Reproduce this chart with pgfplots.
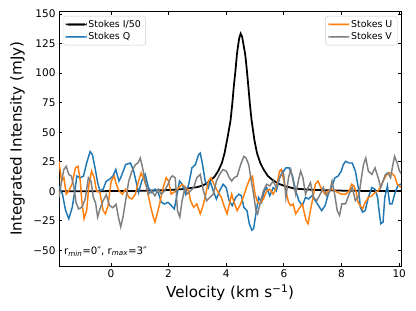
\documentclass[border=0pt]{standalone}
\usepackage{fontspec}
\setmainfont{DejaVu Sans}
\usepackage{pgfplots}
\pgfplotsset{compat=1.18}
\definecolor{tabblue}{RGB}{31,119,180}
\definecolor{taborange}{RGB}{255,127,14}
\definecolor{tabgray}{RGB}{127,127,127}
\pgfplotsset{
  base/.style={
    scale only axis, width=350bp, height=261bp,
    xmin=-1.8, xmax=10.07, ymin=-63.6, ymax=152.5,
    tick align=inside, tick pos=both,
    major tick length=3.5bp, minor tick num=0,
    major tick style={black, line width=0.8bp},
    axis line style={line width=0.8bp},
    xtick={0,2,4,6,8,10},
    xticklabels={0,2,4,6,8,10},
    ytick={-50,-25,0,25,50,75,100,125,150},
    yticklabels={−50,−25,0,25,50,75,100,125,150},
    tick label style={font=\fontsize{10.8}{13}\selectfont},
    legend cell align=left,
    legend style={draw=black!20, rounded corners=2pt, fill=white,
      font=\fontsize{9.7}{11.5}\selectfont},
  },
}
\begin{document}
\begin{tikzpicture}
\begin{axis}[base,
  xlabel={Velocity (km s\textsuperscript{−1})},
  ylabel={Integrated Intensity (mJy)},
  label style={font=\fontsize{15.5}{18}\selectfont},
  ylabel style={yshift=2bp},
  legend style={at={(0.011,0.981)}, anchor=north west},
]
\addplot[black, line width=1.8bp, legend image code/.code={\fill[black, line width=0.1bp] (0bp,-0.9bp) rectangle (21bp,0.9bp);}] coordinates {
(-1.8,0)(-1.0,0)(0,0.1)(1,0.3)(2,1.0)(2.5,1.8)(3.0,3.5)(3.2,5)(3.4,8)(3.6,12.5)(3.72,17)(3.85,24)(3.94,32)(4.05,46)(4.15,60)(4.21,74)(4.26,88)(4.32,102)(4.37,115.6)(4.41,123)(4.45,129.5)(4.50,133.5)(4.55,131)(4.60,124)(4.66,115.6)(4.71,104)(4.77,88)(4.82,74)(4.88,60)(4.98,43)(5.07,32)(5.18,24)(5.30,18.3)(5.44,13)(5.58,10)(5.8,6.5)(6.03,4.4)(6.37,2.2)(7.0,1.2)(8.0,0.5)(9.0,0.2)(10.1,0.1)
};
\addlegendentry{Stokes I/50}
\addplot[tabblue, line width=1.5bp, legend image code/.code={\fill[tabblue, line width=0.1bp] (0bp,-0.75bp) rectangle (21bp,0.75bp);}] coordinates {
(-1.80,4.5)(-1.68,-2.5)(-1.57,-16.4)(-1.46,-23.3)(-1.34,-13.6)(-1.25,0.3)(-1.18,12.8)(-1.06,11.4)(-0.95,12.8)(-0.84,23.9)(-0.72,33.6)(-0.64,30.9)(-0.55,19.8)(-0.46,7.3)(-0.38,0.3)(-0.27,1.7)(-0.16,8.6)(-0.05,10.0)(0.07,12.8)(0.17,18.4)(0.28,8.6)(0.34,11.4)(0.45,18.4)(0.51,22.5)(0.68,23.9)(0.79,17.0)(0.96,-1.1)(1.07,8.6)(1.19,14.2)(1.30,3.1)(1.41,-1.1)(1.53,1.7)(1.64,-1.1)(1.75,-9.4)(1.86,-10.8)(1.98,-9.4)(2.09,-12)(2.2,-15)(2.3,-2)(2.38,8.6)(2.47,5.9)(2.59,-2.5)(2.70,5.9)(2.81,19.8)(2.93,22.5)(3.04,30.9)(3.10,32.3)(3.18,22.5)(3.27,8.6)(3.38,3.1)(3.44,8.6)(3.55,0.3)(3.66,-6.6)(3.77,0.3)(3.89,5.9)(4.00,3.1)(4.10,-8.0)(4.21,-12.2)(4.33,-5.2)(4.44,-2.5)(4.53,-3.9)(4.61,-13.6)(4.72,-16.4)(4.80,-27.5)(4.89,-33.0)(4.95,-31.6)(5.03,-19.1)(5.12,-5.2)(5.23,-9.4)(5.32,0.3)(5.40,3.1)(5.51,-3.9)(5.63,3.1)(5.74,0.3)(5.85,11.4)(5.96,15.6)(6.07,19.8)(6.18,19.8)(6.30,12.8)(6.41,0.3)(6.52,-8.0)(6.64,-12.2)(6.75,-5.2)(6.86,-6.6)(6.97,-3.9)(7.09,-8.0)(7.20,-12.2)(7.31,-16.4)(7.43,-12.2)(7.54,-2.5)(7.65,3.1)(7.77,11.4)(7.88,12.8)(7.99,17.0)(8.06,22.5)(8.14,25.3)(8.26,23.9)(8.37,23.9)(8.48,17.0)(8.60,0.3)(8.65,-13.6)(8.73,-17.7)(8.82,-16.4)(8.93,-5.2)(9.05,3.1)(9.16,1.7)(9.25,-5.2)(9.30,-16.4)(9.36,-27.5)(9.44,-26.1)(9.50,-5.2)(9.59,4.5)(9.67,-10.8)(9.75,-10.8)(9.84,-2.5)(9.95,4.5)(10.04,5.9)(10.1,6)
};
\addlegendentry{Stokes Q}
\addplot[taborange, line width=1.5bp, forget plot] coordinates {
(-1.80,25.3)(-1.71,8.6)(-1.63,11.4)(-1.55,-2.5)(-1.46,0.3)(-1.35,5.9)(-1.23,19.8)(-1.14,21.1)(-1.06,8.6)(-1.01,-8.0)(-0.93,-23.3)(-0.84,-16.4)(-0.76,5.9)(-0.67,17.0)(-0.58,11.4)(-0.50,0.3)(-0.38,-1.1)(-0.27,-16.4)(-0.19,-19.1)(-0.10,-12.2)(0.01,8.6)(0.12,12.8)(0.17,7.3)(0.28,0.3)(0.40,-2.5)(0.51,1.7)(0.62,-5.2)(0.73,-6.6)(0.85,-2.5)(0.96,8.6)(1.05,15.6)(1.13,11.4)(1.24,3.1)(1.36,-10.8)(1.47,-21.9)(1.53,-26.1)(1.62,-17.7)(1.69,-10.8)(1.81,3.1)(1.92,11.4)(2.00,8.6)(2.09,-2.5)(2.25,0.3)(2.36,3.1)(2.47,5.9)(2.59,3.1)(2.70,0.3)(2.76,-8.0)(2.87,-13.6)(2.98,-10.8)(3.10,-19.1)(3.18,-13.6)(3.27,-5.2)(3.38,8.6)(3.47,11.4)(3.55,7.3)(3.66,1.7)(3.83,-5.2)(3.94,-13.6)(4.03,-19.1)(4.11,-10.8)(4.19,-2.5)(4.27,-9.4)(4.38,-16.4)(4.50,-10.8)(4.61,-3.9)(4.72,4.5)(4.83,11.4)(4.91,12.8)(5.00,-2.5)(5.09,-9.4)(5.17,-10.8)(5.29,-6.6)(5.40,0.3)(5.51,1.7)(5.63,-2.5)(5.74,3.1)(5.85,17.0)(5.91,18.4)(6.00,8.6)(6.07,0.3)(6.16,-9.4)(6.24,-12.2)(6.32,-10.8)(6.41,-19.1)(6.52,-15.0)(6.64,-10.8)(6.69,-16.4)(6.77,-24.7)(6.84,-27.5)(6.92,-16.4)(7.00,-6.6)(7.09,5.9)(7.18,8.6)(7.26,4.5)(7.34,0.3)(7.43,-2.5)(7.54,0.3)(7.65,1.7)(7.77,0.3)(7.88,-1.1)(7.99,-2.5)(8.14,-2.5)(8.26,0.3)(8.35,5.9)(8.43,4.5)(8.51,-1.1)(8.57,-9.4)(8.65,-12.2)(8.73,-15.0)(8.82,-9.4)(8.93,-5.2)(9.05,-3.9)(9.16,-1.1)(9.27,0.3)(9.39,5.9)(9.50,11.4)(9.61,15.6)(9.73,15.6)(9.84,12.8)(9.93,5.9)(10.01,4.5)(10.1,3)
};
\addplot[tabgray, line width=1.5bp, forget plot] coordinates {
(-1.80,-5.2)(-1.71,8.6)(-1.63,18.4)(-1.55,21.1)(-1.46,14.2)(-1.37,12.8)(-1.29,4.5)(-1.21,-9.4)(-1.12,-15.0)(-1.01,-13.6)(-0.89,-6.6)(-0.78,11.4)(-0.69,8.6)(-0.61,-5.2)(-0.53,-10)(-0.46,-22)(-0.38,-15)(-0.27,-8)(-0.16,-3)(-0.05,-12)(0.07,-14)(0.18,-11)(0.26,-21.9)(0.34,-30.2)(0.42,-21.9)(0.51,-8.0)(0.62,8.6)(0.73,17.0)(0.85,22.5)(0.94,23.9)(1.02,28.1)(1.10,19.8)(1.19,8.6)(1.30,-2.5)(1.41,0.3)(1.53,-3.9)(1.64,1.7)(1.75,-2.5)(1.86,0.3)(1.98,5.9)(2.07,11.4)(2.14,13)(2.23,11.4)(2.31,-16.4)(2.39,-21.9)(2.47,-8.0)(2.57,3.1)(2.64,-2.5)(2.76,0.3)(2.87,3.1)(2.98,11.4)(3.10,14.2)(3.21,0.3)(3.32,-8.0)(3.44,-5.2)(3.55,-2.5)(3.66,8.6)(3.77,14.2)(3.89,18.4)(4.00,17.0)(4.11,11.4)(4.19,8.6)(4.27,11.4)(4.38,12.8)(4.50,22.5)(4.61,29.5)(4.69,28.1)(4.78,22.5)(4.87,8.6)(4.95,-2.5)(5.03,-16.4)(5.09,-19.1)(5.17,-10.8)(5.29,0.3)(5.40,5.9)(5.51,4.5)(5.63,8.6)(5.74,3.1)(5.85,11.4)(5.96,17.0)(6.00,12.8)(6.07,-5.2)(6.16,11.4)(6.24,18.4)(6.32,8.6)(6.41,-2.5)(6.50,8.6)(6.58,17.0)(6.66,11.4)(6.75,-2.5)(6.84,3.1)(6.92,7.3)(7.03,-5.2)(7.14,-8.0)(7.26,-2.5)(7.37,3.1)(7.48,-3.9)(7.60,0.3)(7.67,8.6)(7.76,-2.5)(7.85,-16.4)(7.93,-20.5)(8.01,-10.8)(8.14,-10.8)(8.26,-2.5)(8.37,3.1)(8.48,-8.0)(8.60,-3.9)(8.69,11.4)(8.76,22.5)(8.84,28.1)(8.93,17.0)(9.05,14.2)(9.16,19.8)(9.27,11.4)(9.36,3.1)(9.44,8.6)(9.52,14.2)(9.61,15.6)(9.70,11.4)(9.78,22.5)(9.84,29.5)(9.93,23.9)(10.01,17.0)(10.1,14)
};
\node[anchor=west, font=\fontsize{10.5}{12}\selectfont, inner sep=0pt] at (axis cs:-1.63,-51) {r\textsubscript{\textit{min}}=0″, r\textsubscript{\textit{max}}=3″};
\end{axis}
\begin{axis}[base, hide axis,
  legend style={at={(0.989,0.981)}, anchor=north east},
]
\addlegendimage{legend image code/.code={\fill[taborange, line width=0.1bp] (0bp,-0.75bp) rectangle (21bp,0.75bp);}}
\addlegendentry{Stokes U}
\addlegendimage{legend image code/.code={\fill[tabgray, line width=0.1bp] (0bp,-0.75bp) rectangle (21bp,0.75bp);}}
\addlegendentry{Stokes V}
\end{axis}
\path ([shift={(-7bp,-7bp)}]current bounding box.south west) ([shift={(7bp,7bp)}]current bounding box.north east);
\end{tikzpicture}
\end{document}
